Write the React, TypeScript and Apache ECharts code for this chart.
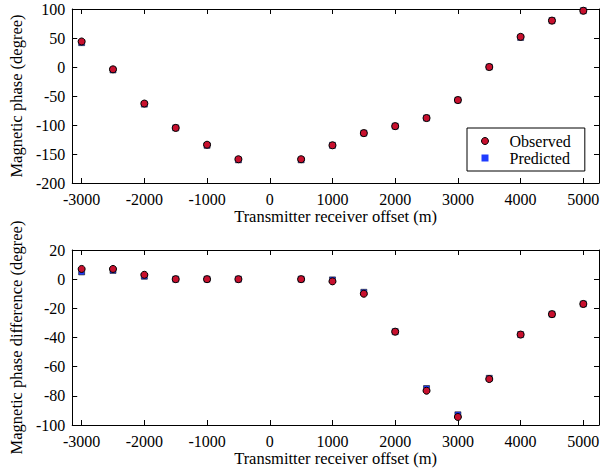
import React, { useEffect, useRef } from "react";
import * as echarts from "echarts";

const offsets = [-3000, -2500, -2000, -1500, -1000, -500, 500, 1000, 1500, 2000, 2500, 3000, 3500, 4000, 4500, 5000];
const phaseObserved = [44, -4, -63, -105, -134, -159, -159, -135, -114, -102, -88, -57, 0, 52, 80, 97];
const phasePredicted = [42, -5, -64, -105, -135, -160, -160, -135, -114, -102, -88, -57, 0, 51, 80, 97];
const diffObserved = [7, 7, 3, 0, 0, 0, 0, -1.5, -10, -36, -76.5, -94.5, -68.5, -38, -24, -17];
const diffPredicted = [5, 6, 2, 0, 0, 0, 0, -0.5, -9, -36, -75, -93, -68, -38, -24, -17];
const xTicks = [-3000, -2000, -1000, 0, 1000, 2000, 3000, 4000, 5000];
const xTitle = "Transmitter receiver offset (m)";
const yTitleTop = "Magnetic phase (degree)";
const yTitleBottom = "Magnetic phase difference (degree)";

const FONT = "'Liberation Serif', 'Times New Roman', serif";

export default function App() {
  const ref = useRef<HTMLDivElement>(null);
  useEffect(() => {
    if (!ref.current) return;
    const chart = echarts.init(ref.current, undefined, { renderer: "svg" });
    const line = { show: true, onZero: false, lineStyle: { color: "#000", width: 1 } };
    const fmt = (v: number) => String(v);
    const mkX = (grid: number, main: boolean) => ({
      type: "value",
      gridIndex: grid,
      position: main ? "bottom" : "top",
      min: -3150,
      max: 5250,
      axisLine: line,
      splitLine: { show: false },
      axisTick: { show: true, inside: true, length: 5, customValues: xTicks, lineStyle: { color: "#000" } },
      axisLabel: { show: main, customValues: xTicks, formatter: fmt, margin: 8, color: "#000", fontFamily: FONT, fontSize: 16 },
      name: main ? xTitle : "",
      nameLocation: "middle",
      nameGap: 24,
      nameTextStyle: { color: "#000", fontFamily: FONT, fontSize: 16.5 },
    });
    const mkY = (grid: number, main: boolean, min: number, max: number, interval: number, title: string) => ({
      type: "value",
      gridIndex: grid,
      position: main ? "left" : "right",
      min,
      max,
      interval,
      axisLine: line,
      splitLine: { show: false },
      axisTick: { show: true, inside: true, length: 5, lineStyle: { color: "#000" } },
      axisLabel: { show: main, formatter: fmt, margin: 7, color: "#000", fontFamily: FONT, fontSize: 16 },
      name: main ? title : "",
      nameLocation: "middle",
      nameGap: 42,
      nameRotate: 90,
      nameTextStyle: { color: "#000", fontFamily: FONT, fontSize: 16.5 },
    });
    const obsStyle = { color: "#c8102e", borderColor: "#000", borderWidth: 1, opacity: 1 };
    const predStyle = { color: "#1f3cff", borderColor: "#111", borderWidth: 0.6, opacity: 1 };
    chart.setOption({
      animation: false,
      backgroundColor: "#fff",
      grid: [
        { left: 71, top: 9, width: 528, height: 174 },
        { left: 71, top: 250, width: 528, height: 175 },
      ],
      xAxis: [mkX(0, true), mkX(0, false), mkX(1, true), mkX(1, false)],
      yAxis: [
        mkY(0, true, -200, 100, 50, yTitleTop),
        mkY(0, false, -200, 100, 50, ""),
        mkY(1, true, -100, 20, 20, yTitleBottom),
        mkY(1, false, -100, 20, 20, ""),
      ],
      legend: {
        orient: "vertical",
        left: 467,
        top: 128,
        data: [
          { name: "Observed", icon: "circle", itemStyle: { color: "#c8102e", borderColor: "#000", borderWidth: 1 } },
          { name: "Predicted", icon: "rect", itemStyle: { color: "#1f3cff", borderWidth: 0 } },
        ],
        itemWidth: 7,
        itemHeight: 7,
        itemGap: 1,
        padding: [5, 14, 5, 14],
        borderColor: "#000",
        borderWidth: 1,
        backgroundColor: "#fff",
        selectedMode: false,
        textStyle: { color: "#000", fontFamily: FONT, fontSize: 16, lineHeight: 16, padding: [0, 0, 0, 16] },
      },
      series: [
        {
          name: "Predicted", type: "scatter", xAxisIndex: 0, yAxisIndex: 0, symbol: "rect", symbolSize: 6,
          itemStyle: predStyle, data: offsets.map((x, i) => [x, phasePredicted[i]]),
        },
        {
          name: "Observed", type: "scatter", xAxisIndex: 0, yAxisIndex: 0, symbol: "circle", symbolSize: 7,
          itemStyle: obsStyle, data: offsets.map((x, i) => [x, phaseObserved[i]]),
        },
        {
          name: "Predicted", type: "scatter", xAxisIndex: 2, yAxisIndex: 2, symbol: "rect", symbolSize: 6,
          itemStyle: predStyle, data: offsets.map((x, i) => [x, diffPredicted[i]]),
        },
        {
          name: "Observed", type: "scatter", xAxisIndex: 2, yAxisIndex: 2, symbol: "circle", symbolSize: 7,
          itemStyle: obsStyle, data: offsets.map((x, i) => [x, diffObserved[i]]),
        },
      ],
    });
    return () => chart.dispose();
  }, []);
  return <div ref={ref} style={{ position: "fixed", left: 0, top: 0, width: 611, height: 474 }} />;
}
